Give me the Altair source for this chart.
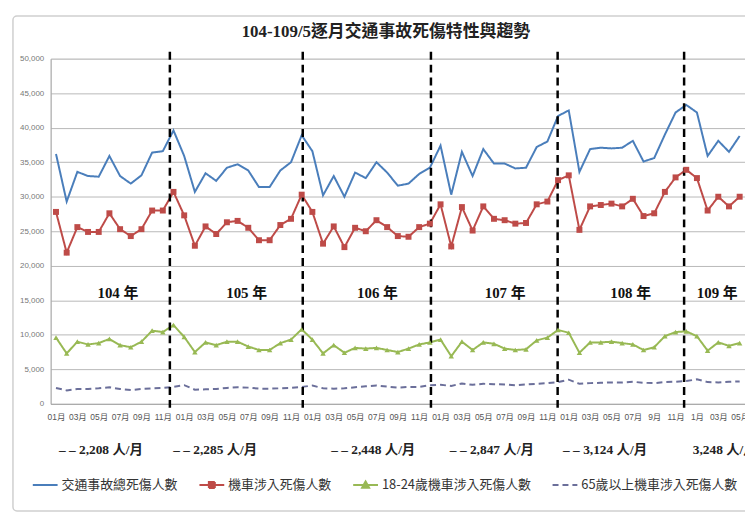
import json
import altair as alt
import pandas as pd

# ---------------- data ----------------
series_names = ["交通事故總死傷人數", "機車涉入死傷人數", "18-24歲機車涉入死傷人數", "65歲以上機車涉入死傷人數"]
series_colors = ["#4a7ebb", "#be4b48", "#98b954", "#6b6f9a"]

total = [36200, 29300, 33600, 33000, 32900, 35900, 33000, 31900, 33100, 36400, 36600, 39600,
         35900, 30700, 33400, 32300, 34200, 34700, 33800, 31400, 31400, 33800, 35000, 38900,
         36600, 30200, 33000, 30000, 33500, 32700, 35000, 33500, 31600, 31900, 33300, 34200,
         37400, 30300, 36500, 33000, 36900, 34800, 34800, 34100, 34200, 37200, 38000, 41700,
         42500, 33600, 36900, 37100, 37000, 37100, 38100, 35100, 35600, 39000, 42200, 43300,
         42200, 35900, 38100, 36500, 38800]
moto = [27800, 21900, 25600, 24900, 24900, 27600, 25300, 24300, 25300, 28000, 28000, 30700,
        27300, 22900, 25700, 24600, 26300, 26500, 25500, 23700, 23700, 25900, 26800, 30300,
        27800, 23200, 25700, 22700, 25500, 25000, 26600, 25600, 24300, 24200, 25600, 26100,
        28900, 22800, 28500, 25100, 28600, 26800, 26600, 26100, 26200, 28900, 29300, 32400,
        33100, 25200, 28600, 28800, 29000, 28600, 29700, 27200, 27600, 30700, 32800, 33900,
        32700, 28000, 30000, 28600, 30000]
youth = [9600, 7300, 9000, 8600, 8800, 9400, 8500, 8200, 9000, 10600, 10400, 11400,
         9700, 7500, 8900, 8500, 9000, 9000, 8300, 7800, 7800, 8800, 9300, 10800,
         9300, 7300, 8500, 7400, 8100, 8000, 8100, 7800, 7500, 8000, 8600, 8900,
         9300, 6900, 9000, 7800, 8900, 8700, 8000, 7800, 7900, 9200, 9600, 10700,
         10300, 7400, 8900, 8900, 9000, 8800, 8600, 7800, 8200, 9800, 10400, 10500,
         9800, 7700, 8900, 8400, 8800]
elder = [2300, 1950, 2150, 2150, 2250, 2400, 2150, 2000, 2150, 2250, 2300, 2450,
         2700, 2050, 2100, 2150, 2300, 2400, 2350, 2200, 2200, 2250, 2300, 2450,
         2650, 2250, 2200, 2250, 2400, 2550, 2650, 2500, 2350, 2450, 2450, 2700,
         2750, 2600, 2950, 2750, 2900, 2850, 2800, 2700, 2800, 2900, 3000, 3150,
         3500, 2900, 3000, 3050, 3100, 3100, 3200, 3050, 3000, 3150, 3200, 3300,
         3550, 3150, 3100, 3200, 3250]

x_tick_labels = (["01月", "03月", "05月", "07月", "09月", "11月"] * 4
                 + ["01月", "03月", "05月", "07月", "9月", "11月"]
                 + ["1月", "03月", "05月"])

year_labels = ["104 年", "105 年", "106 年", "107 年", "108 年", "109 年"]
year_label_x = [5.8, 17.85, 30.1, 42.05, 53.8, 61.9]
year_label_y = [16100] * 6

avg_labels = ["– – 2,208 人/月", "– – 2,285 人/月", "– – 2,448 人/月",
              "– – 2,847 人/月", "– – 3,124 人/月", "3,248 人/月"]
avg_label_x = [4.2, 14.9, 29.7, 40.8, 51.4, 62.6]
avg_label_y = [-6700] * 6

year_break_x = [10.66, 23.1, 35.1, 46.96, 58.8]
year_break_top = 51000
year_break_bottom = -800

# ---------------- frames ----------------
n = len(total)
rows = []
for name, vals in zip(series_names, [total, moto, youth, elder]):
    for i, v in enumerate(vals):
        rows.append({"idx": i, "series": name, "value": v})
df = pd.DataFrame(rows)

years_df = pd.DataFrame({"pos": year_label_x, "yv": year_label_y, "txt": year_labels})
avg_df = pd.DataFrame({"pos": avg_label_x, "yv": avg_label_y, "txt": avg_labels})
breaks_df = pd.DataFrame({"pos": year_break_x, "y1": [year_break_top] * 5, "y2": [year_break_bottom] * 5})
dummy_df = pd.DataFrame({"idx": [0] * 4, "series": series_names, "value": [-20000] * 4})

x_scale = alt.Scale(domain=[-0.5, n - 0.5], nice=False, zero=False)
y_scale = alt.Scale(domain=[0, 50000], nice=False)

x_axis = alt.Axis(values=list(range(0, n, 2)), grid=False, ticks=False, domainColor="#a6a6a6",
                  labelExpr=json.dumps(x_tick_labels, ensure_ascii=False) + "[datum.value/2]",
                  labelFont="Liberation Sans, Noto Sans CJK TC", labelFontSize=8.5, labelColor="#555",
                  labelPadding=9, labelAngle=0, labelOverlap=False, labelBound=False, title=None)
y_axis = alt.Axis(values=list(range(0, 50001, 5000)), labelExpr="format(datum.value, ',')",
                  grid=True, gridColor="#b8b8b8",
                  ticks=False, domainColor="#a6a6a6", labelFont="Liberation Sans", labelFontSize=8,
                  labelColor="#777", labelPadding=7, title=None)


def X(field):
    return alt.X(field, type="quantitative", scale=x_scale, axis=x_axis)


def Y(field):
    return alt.Y(field, type="quantitative", scale=y_scale, axis=y_axis)


def leg():
    return alt.Legend(title=None, orient="none", legendX=-19, legendY=416, direction="horizontal",
                      symbolSize=625, symbolStrokeWidth=2, labelFont="Noto Sans CJK TC",
                      labelFontSize=13, labelColor="#333", labelLimit=400, columnPadding=17,
                      labelOffset=3)


color_scale = alt.Scale(domain=series_names, range=series_colors)
dash_scale = alt.Scale(domain=series_names, range=[[1, 0], [1, 0], [1, 0], [6, 4]])
shape_scale = alt.Scale(domain=series_names, range=[
    "M-1,0L1,0",
    "M-1,0L1,0M-0.24,-0.24L0.24,-0.24L0.24,0.24L-0.24,0.24Z",
    "M-1,0L1,0M0,-0.28L0.28,0.22L-0.28,0.22Z",
    "M-1,0L1,0",
])

frame = alt.Chart(pd.DataFrame({"a": [0]})).mark_rect(
    filled=False, stroke="#cfcfcf", strokeWidth=1.5, cornerRadius=4
).encode(x=alt.value(-38), x2=alt.value(760), y=alt.value(-43), y2=alt.value(456))

lines = alt.Chart(df).mark_line(strokeWidth=2).encode(
    x=X("idx"), y=Y("value"),
    color=alt.Color("series:N", scale=color_scale, legend=leg()),
    strokeDash=alt.StrokeDash("series:N", scale=dash_scale, legend=leg()),
)

squares = alt.Chart(df[df.series == series_names[1]]).mark_point(
    shape="square", filled=True, size=36, color=series_colors[1], opacity=1
).encode(x=X("idx"), y=Y("value"))

triangles = alt.Chart(df[df.series == series_names[2]]).mark_point(
    shape="triangle-up", filled=True, size=30, color=series_colors[2], opacity=1
).encode(x=X("idx"), y=Y("value"))

breaks = alt.Chart(breaks_df).mark_rule(color="black", strokeWidth=2.5, strokeDash=[8, 5]).encode(
    x=X("pos"), y=Y("y1"), y2="y2"
)

year_text = alt.Chart(years_df).mark_text(
    font="Liberation Serif, Noto Sans CJK TC", fontSize=15, fontWeight="bold", color="#111"
).encode(x=X("pos"), y=Y("yv"), text="txt")

avg_text = alt.Chart(avg_df).mark_text(
    font="Liberation Serif, Noto Sans CJK TC", fontSize=13.5, fontWeight="bold", color="#222"
).encode(x=X("pos"), y=Y("yv"), text="txt")

dummy = alt.Chart(dummy_df).mark_point(filled=True, clip=True, size=625, opacity=1, strokeWidth=2).encode(
    x=X("idx"), y=Y("value"),
    color=alt.Color("series:N", scale=color_scale, legend=leg()),
    stroke=alt.Stroke("series:N", scale=color_scale, legend=leg()),
    shape=alt.Shape("series:N", scale=shape_scale, legend=leg()),
)

chart = alt.layer(frame, lines, breaks, squares, triangles, year_text, avg_text, dummy).properties(
    width=700, height=348,
    autosize=alt.AutoSizeParams(type="none"),
    padding={"left": 43, "top": 49, "right": 0, "bottom": 110},
    title=alt.TitleParams("104-109/5逐月交通事故死傷特性與趨勢", anchor="middle", dx=-12,
                          frame="group", baseline="bottom", offset=19, dy=62,
                          font="Liberation Serif, Noto Sans CJK TC",
                          fontSize=17, fontWeight="bold", color="#222"),
).configure_view(stroke=None).configure(background="white")

chart.save("out.html", embed_options={"renderer": "svg", "actions": False})
